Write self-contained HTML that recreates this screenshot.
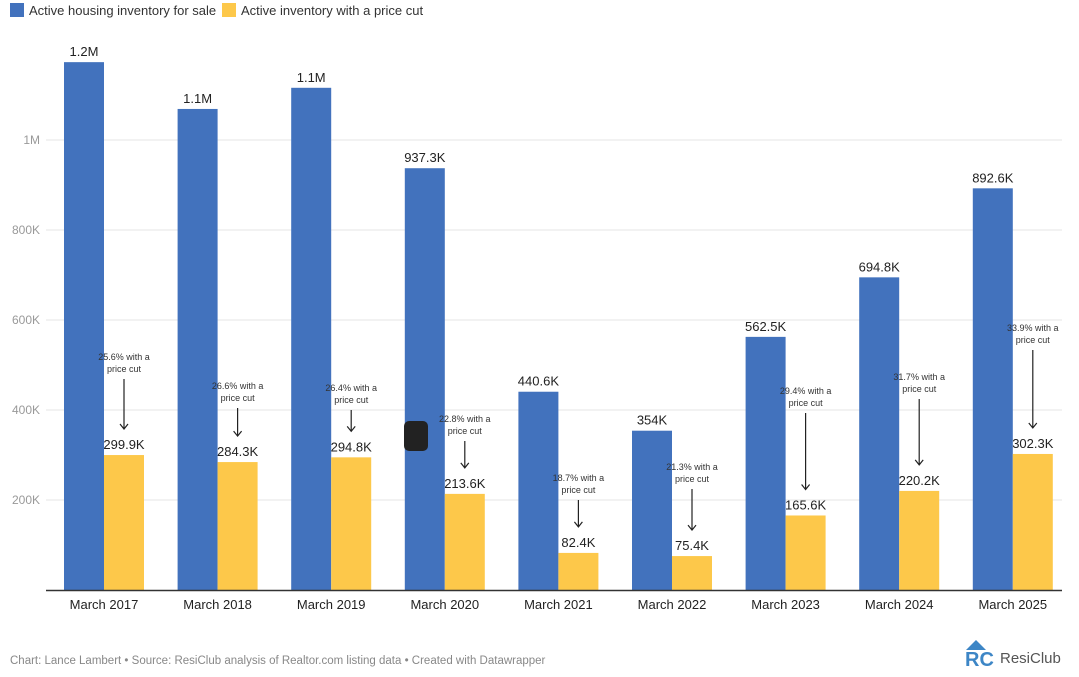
<!DOCTYPE html>
<html><head><meta charset="utf-8"><style>
body{margin:0;background:#fff;font-family:"Liberation Sans",sans-serif;}
svg{display:block}
</style></head><body>
<svg id="c" width="1079" height="677">
<g>
<rect x="10" y="3" width="14" height="14" fill="#4272bd"/>
<text x="29" y="15" font-size="13" fill="#333">Active housing inventory for sale</text>
<rect x="222" y="3" width="14" height="14" fill="#fdc84a"/>
<text x="241" y="15" font-size="13" fill="#333">Active inventory with a price cut</text>
</g>
<text x="10" y="664" font-size="11.5" fill="#888">Chart: Lance Lambert • Source: ResiClub analysis of Realtor.com listing data • Created with Datawrapper</text>
<g>
<path d="M966 650 L976 640 L986 650 Z" fill="#3d86c6"/>
<text x="965" y="666" font-size="20" font-weight="bold" fill="#3d86c6">RC</text>
<text x="1000" y="663" font-size="15" fill="#555">ResiClub</text>
</g>
<g id="plot"></g>
<rect x="404" y="421" width="24" height="30" rx="5" fill="#222"/>
</svg>
<script>
const categories=["March 2017","March 2018","March 2019","March 2020","March 2021","March 2022","March 2023","March 2024","March 2025"];
const activeValues=[1173,1069,1116,937.3,440.6,354,562.5,694.8,892.6];
const activeLabels=["1.2M","1.1M","1.1M","937.3K","440.6K","354K","562.5K","694.8K","892.6K"];
const cutValues=[299.9,284.3,294.8,213.6,82.4,75.4,165.6,220.2,302.3];
const cutLabels=["299.9K","284.3K","294.8K","213.6K","82.4K","75.4K","165.6K","220.2K","302.3K"];
const cutShare=["25.6%","26.6%","26.4%","22.8%","18.7%","21.3%","29.4%","31.7%","33.9%"];
const annoY=[357,386,388,419,478,467,391,377,328];
const yTicks=[200,400,600,800,1000];
const yTickLabels=["200K","400K","600K","800K","1M"];
const NS="http://www.w3.org/2000/svg";
const g=document.getElementById('plot');
const y=v=>590-v*0.45;
const gx=i=>64+i*113.6;
function mk(t,a,txt){const e=document.createElementNS(NS,t);for(const k in a)e.setAttribute(k,a[k]);if(txt!==undefined)e.textContent=txt;g.appendChild(e);return e;}
yTicks.forEach((v,i)=>{
 const l=mk('line',{x1:46,x2:1062,y1:y(v),y2:y(v),stroke:'#e6e6e6'});
 
 
 const t=mk('text',{x:40,y:y(v)+4,'font-size':12,fill:'#999','text-anchor':'end'},yTickLabels[i]);
 
 
});
categories.forEach((c,i)=>{
 const x=gx(i);
 const b=mk('rect',{x:x,y:y(activeValues[i]),width:40,height:590-y(activeValues[i]),fill:'#4272bd'});
 
 
 const b2=mk('rect',{x:x+40,y:y(cutValues[i]),width:40,height:590-y(cutValues[i]),fill:'#fdc84a'});
 
 
 const l1=mk('text',{x:x+20,y:y(activeValues[i])-6,'font-size':13,fill:'#222','text-anchor':'middle'},activeLabels[i]);
 
 
 const l2=mk('text',{x:x+60,y:y(cutValues[i])-6,'font-size':13,fill:'#222','text-anchor':'middle'},cutLabels[i]);
 
 
 const xl=mk('text',{x:x+40,y:609,'font-size':13,fill:'#222','text-anchor':'middle'},c);
 
 
 const ax=x+60, ay=annoY[i];
 const a1=mk('text',{x:ax,y:ay+3,'font-size':9,fill:'#333','text-anchor':'middle'},cutShare[i]+' with a');
 
 
 const a2=mk('text',{x:ax,y:ay+15,'font-size':9,fill:'#333','text-anchor':'middle'},'price cut');
 
 
 const ey=y(cutValues[i])-26;
 const ar=mk('path',{d:`M${ax} ${ay+22} L${ax} ${ey} M${ax-4} ${ey-5} L${ax} ${ey} L${ax+4} ${ey-5}`,stroke:'#222',fill:'none','stroke-width':1.2});
 
 
});
const base=mk('line',{x1:46,x2:1062,y1:590.5,y2:590.5,stroke:'#333','stroke-width':1.5});


</script>
</body></html>
